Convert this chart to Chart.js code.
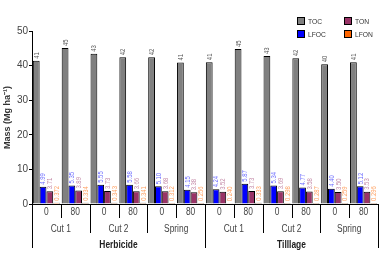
<!DOCTYPE html>
<html>
<head>
<meta charset="utf-8">
<script src="https://cdn.jsdelivr.net/npm/chart.js@4/dist/chart.umd.min.js"></script>
<style>
html,body{margin:0;padding:0;background:#fff;}
canvas{display:block;}
</style>
</head>
<body>
<canvas id="c" width="391" height="254"></canvas>
<script>
const categories = ["0","80","0","80","0","80","0","80","0","80","0","80"];
const cutLabels = ["Cut 1","Cut 2","Spring","Cut 1","Cut 2","Spring"];
const treatmentLabels = ["Herbicide","Tilllage"];
const seriesNames = ["TOC","LFOC","TON","LFON"];
const TOC  = [41.4, 45.1, 43.4, 42.4, 42.4, 40.9, 41.0, 44.8, 42.8, 42.1, 40.4, 41.0];
const LFOC = [4.99, 5.35, 5.55, 5.58, 5.10, 4.15, 4.24, 5.87, 5.34, 4.77, 4.40, 5.12];
const TON  = [3.71, 3.89, 3.73, 3.66, 3.68, 3.38, 3.52, 3.73, 3.69, 3.58, 3.50, 3.53];
const LFON = [0.372, 0.334, 0.343, 0.341, 0.312, 0.256, 0.240, 0.333, 0.298, 0.287, 0.259, 0.296];
const labelDecimals = [0, 2, 2, 3];
const yTicks = [0, 10, 20, 30, 40, 50];

const FONT = "'Liberation Sans', Arial, sans-serif";
const fills = ["#808080", "#0000ff", "#993366", "#ff6600"];
const labelColors = ["#555555", "#6b6bff", "#c48aa8", "#ffa060"];
const NARROW = 0.84;

function narrowText(ctx, txt, x, y) {
  ctx.save();
  ctx.translate(x, y);
  ctx.scale(NARROW, 1);
  ctx.fillText(txt, 0, 0);
  ctx.restore();
}

const overlay = {
  id: 'overlay',
  afterDraw(chart) {
    const ctx = chart.ctx;
    const xs = chart.scales.x;
    const ca = chart.chartArea;
    const base = ca.bottom;
    ctx.save();
    // data labels
    chart.data.datasets.forEach((ds, di) => {
      const meta = chart.getDatasetMeta(di);
      ctx.fillStyle = labelColors[di];
      ctx.font = "7px " + FONT;
      meta.data.forEach((el, j) => {
        const v = ds.data[j];
        const txt = v.toFixed(labelDecimals[di]);
        ctx.save();
        ctx.translate(el.x + 0.5, el.y - 2);
        ctx.rotate(-Math.PI / 2);
        ctx.scale(NARROW, 1);
        ctx.textAlign = 'left';
        ctx.textBaseline = 'middle';
        ctx.fillText(txt, 0, 0);
        ctx.restore();
      });
    });
    // separators
    const n = categories.length;
    const pos = [];
    for (let i = 0; i < n; i++) pos.push(xs.getPixelForValue(i));
    const bounds = [ca.left];
    for (let i = 0; i < n - 1; i++) bounds.push((pos[i] + pos[i + 1]) / 2);
    bounds.push(ca.right);
    ctx.strokeStyle = "#000";
    ctx.lineWidth = 1;
    bounds.forEach((b, k) => {
      let len;
      if (k % 6 === 0) len = 44;
      else if (k % 2 === 0) len = 29;
      else len = 14;
      ctx.beginPath();
      ctx.moveTo(Math.round(b) + 0.5, base);
      ctx.lineTo(Math.round(b) + 0.5, base + len);
      ctx.stroke();
    });
    // tick labels level 1
    ctx.fillStyle = "#444";
    ctx.font = "10px " + FONT;
    ctx.textAlign = 'center';
    ctx.textBaseline = 'middle';
    categories.forEach((c, i) => narrowText(ctx, c, pos[i], base + 8));
    cutLabels.forEach((c, k) => {
      const x = (bounds[2 * k] + bounds[2 * k + 2]) / 2;
      narrowText(ctx, c, x, base + 25);
    });
    ctx.fillStyle = "#222";
    ctx.font = "bold 10px " + FONT;
    treatmentLabels.forEach((t, k) => {
      const x = (bounds[6 * k] + bounds[6 * k + 6]) / 2;
      narrowText(ctx, t, x, base + 41);
    });
    // legend
    ctx.font = "8px " + FONT;
    ctx.textAlign = 'left';
    ctx.textBaseline = 'middle';
    const order = [[0, 297, 21], [2, 344, 21], [1, 297, 34], [3, 344, 34]];
    order.forEach(([di, lx, ly]) => {
      ctx.fillStyle = fills[di];
      ctx.fillRect(lx, ly - 4, 8, 8);
      ctx.strokeStyle = "#000";
      ctx.lineWidth = 1;
      ctx.strokeRect(lx + 0.5, ly - 3.5, 7, 7);
      ctx.fillStyle = "#333";
      narrowText(ctx, seriesNames[di], lx + 11, ly + 0.5);
    });
    ctx.restore();
  }
};

const seriesData = [TOC, LFOC, TON, LFON];
new Chart(document.getElementById('c'), {
  type: 'bar',
  data: {
    labels: categories,
    datasets: seriesNames.map((name, i) => ({
      label: name,
      data: seriesData[i],
      backgroundColor: fills[i],
      borderColor: "#000",
      borderWidth: 1,
      barPercentage: 1.0,
      categoryPercentage: 0.94
    }))
  },
  options: {
    responsive: false,
    animation: false,
    devicePixelRatio: 1,
    layout: { padding: { left: 0, right: 13, top: 31, bottom: 42 } },
    plugins: { legend: { display: false }, tooltip: { enabled: false } },
    scales: {
      x: {
        ticks: { display: false },
        grid: { display: false },
        border: { display: true, color: "#000", width: 1 }
      },
      y: {
        min: 0, max: 50,
        afterBuildTicks: s => { s.ticks = yTicks.map(v => ({ value: v })); },
        afterFit: s => { s.width = 32; },
        ticks: { color: "#444", font: { size: 10, family: FONT }, padding: 1 },
        grid: { drawOnChartArea: false, tickLength: 3, color: "#000" },
        border: { display: true, color: "#000", width: 1 },
        title: {
          display: true,
          text: "Mass (Mg ha\u207B\u00B9)",
          color: "#333",
          font: { size: 9, weight: 'bold', family: FONT },
          padding: { top: 2, bottom: 0 }
        }
      }
    }
  },
  plugins: [overlay]
});
</script>
</body>
</html>
